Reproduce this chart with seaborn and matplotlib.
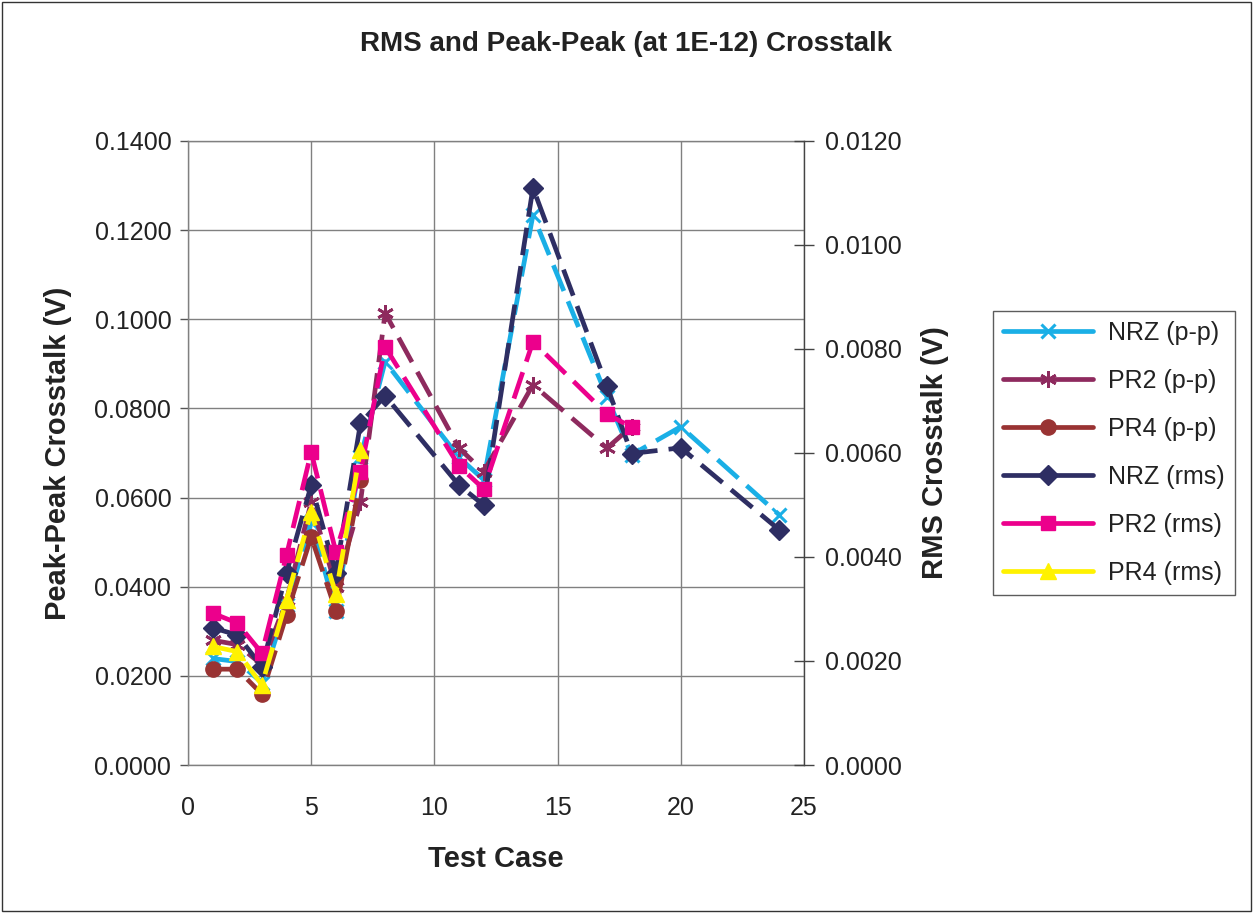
import matplotlib
matplotlib.use("Agg")
import matplotlib.pyplot as plt
import matplotlib.patches as mpatches
import seaborn as sns
import pandas as pd

# Test cases and crosstalk measurements
cases_full = [1, 2, 3, 4, 5, 6, 7, 8, 11, 12, 14, 17, 18, 20, 24]
cases_pr2 = [1, 2, 3, 4, 5, 6, 7, 8, 11, 12, 14, 17, 18]
cases_pr4 = [1, 2, 3, 4, 5, 6, 7]

# Peak-peak crosstalk (V), left axis
nrz_pp = [0.0239, 0.0232, 0.0185, 0.0360, 0.0545, 0.0345, 0.0690, 0.0905,
          0.0690, 0.0640, 0.1234, 0.0826, 0.0696, 0.0759, 0.0561]
pr2_pp = [0.0280, 0.0270, 0.0225, 0.0370, 0.0590, 0.0400, 0.0590, 0.1014,
          0.0711, 0.0658, 0.0853, 0.0711, 0.0759]
pr4_pp = [0.0215, 0.0215, 0.0159, 0.0337, 0.0512, 0.0346, 0.0640]

# RMS crosstalk (V), right axis
nrz_rms = [0.00264, 0.00250, 0.00189, 0.00370, 0.00538, 0.00370, 0.00657, 0.00710,
           0.00538, 0.00500, 0.01110, 0.00729, 0.00599, 0.00610, 0.00452]
pr2_rms = [0.00292, 0.00273, 0.00215, 0.00404, 0.00602, 0.00410, 0.00564, 0.00804,
           0.00575, 0.00531, 0.00814, 0.00675, 0.00650]
pr4_rms = [0.00228, 0.00218, 0.00154, 0.00318, 0.00487, 0.00329, 0.00606]

left_ticks = [0.0, 0.02, 0.04, 0.06, 0.08, 0.10, 0.12, 0.14]
right_ticks = [0.0, 0.002, 0.004, 0.006, 0.008, 0.010, 0.012]
x_ticks = [0, 5, 10, 15, 20, 25]

sns.set_style("white")
plt.rcParams["font.family"] = ["Liberation Sans", "DejaVu Sans"]
plt.rcParams["lines.scale_dashes"] = False

fig = plt.figure(figsize=(12.53, 9.13), dpi=100)
ax = fig.add_axes([188 / 1253, 1 - 765 / 913, (804 - 188) / 1253, (765 - 141) / 913])
ax2 = ax.twinx()

DASH = (20, 8)
LW = 3.4

series_left = [
    ("NRZ (p-p)", cases_full, nrz_pp, "#1AAFE6", "x", 10, 2.2),
    ("PR2 (p-p)", cases_pr2, pr2_pp, "#8E2A5E", (6, 2, 0), 12, 2.0),
    ("PR4 (p-p)", cases_pr4, pr4_pp, "#993333", "o", 11, 1.0),
]
series_right = [
    ("NRZ (rms)", cases_full, nrz_rms, "#2E2E63", "D", 10, 1.0),
    ("PR2 (rms)", cases_pr2, pr2_rms, "#EC008C", "s", 10, 1.0),
    ("PR4 (rms)", cases_pr4, pr4_rms, "#FFF200", "^", 12, 1.0),
]

handles = []
for target, group in ((ax, series_left), (ax2, series_right)):
    for name, xs, ys, color, marker, ms, mew in group:
        df = pd.DataFrame({"case": xs, "value": ys})
        sns.lineplot(data=df, x="case", y="value", ax=target, color=color,
                     marker=marker, markersize=ms, markeredgewidth=mew,
                     markeredgecolor=color, linewidth=LW, label=name,
                     legend=False, sort=False)
        line = target.lines[-1]
        line.set_dashes(DASH)
        legend_line = matplotlib.lines.Line2D([], [], color=color, marker=marker,
                                              markersize=ms, markeredgewidth=mew,
                                              markeredgecolor=color, linewidth=LW,
                                              label=name)
        handles.append(legend_line)

# Axis limits and ticks
ax.set_xlim(0, 25)
ax.set_ylim(0, 0.14)
ax2.set_ylim(0, 0.012)
ax.set_xticks(x_ticks)
ax.set_yticks(left_ticks)
ax2.set_yticks(right_ticks)
ax.set_yticklabels([f"{v:.4f}" for v in left_ticks])
ax2.set_yticklabels([f"{v:.4f}" for v in right_ticks])
ax.set_xticklabels([str(v) for v in x_ticks])

tick_color = "#222222"
ax.tick_params(axis="both", labelsize=18, labelcolor=tick_color, colors="#555555",
               direction="out", length=6, width=1, pad=6)
ax.tick_params(axis="x", pad=16)
ax2.tick_params(axis="y", labelsize=18, labelcolor=tick_color, colors="#444444",
                direction="inout", length=14, width=1, pad=8, right=True)

ax.grid(True, color="#808080", linewidth=1.0)
ax.set_axisbelow(True)
ax2.grid(False)

for sp in ("left", "bottom", "top"):
    ax.spines[sp].set_color("#808080")
    ax.spines[sp].set_linewidth(1.0)
ax.spines["right"].set_visible(False)
for sp in ("left", "bottom", "top"):
    ax2.spines[sp].set_visible(False)
ax2.spines["right"].set_color("#444444")
ax2.spines["right"].set_linewidth(1.0)

ax.set_xlabel("Test Case", fontsize=21, fontweight="bold", color="#222222", labelpad=18)
ax.set_ylabel("Peak-Peak Crosstalk (V)", fontsize=21, fontweight="bold", color="#222222", labelpad=16)
ax2.set_ylabel("RMS Crosstalk (V)", fontsize=21, fontweight="bold", color="#222222", labelpad=14)

fig.text(0.5, 1 - 44 / 913, "RMS and Peak-Peak (at 1E-12) Crosstalk", ha="center", va="center",
         fontsize=20, fontweight="bold", color="#222222")

leg = fig.legend(handles=handles, loc="upper left",
                 bbox_to_anchor=(993 / 1253, 1 - 311 / 913), bbox_transform=fig.transFigure,
                 fontsize=18, frameon=True, fancybox=False, borderaxespad=0,
                 handlelength=3.6, handletextpad=0.6, labelspacing=0.96, borderpad=0.4)
leg.get_frame().set_edgecolor("#333333")
leg.get_frame().set_linewidth(1.0)
for t in leg.get_texts():
    t.set_color("#222222")

# Outer chart border
fig.patches.append(mpatches.Rectangle((2 / 1253, 2 / 913), 1 - 4 / 1253, 1 - 4 / 913,
                                      transform=fig.transFigure, fill=False,
                                      edgecolor="#333333", linewidth=1.0))

fig.savefig("out.png", dpi=100)
